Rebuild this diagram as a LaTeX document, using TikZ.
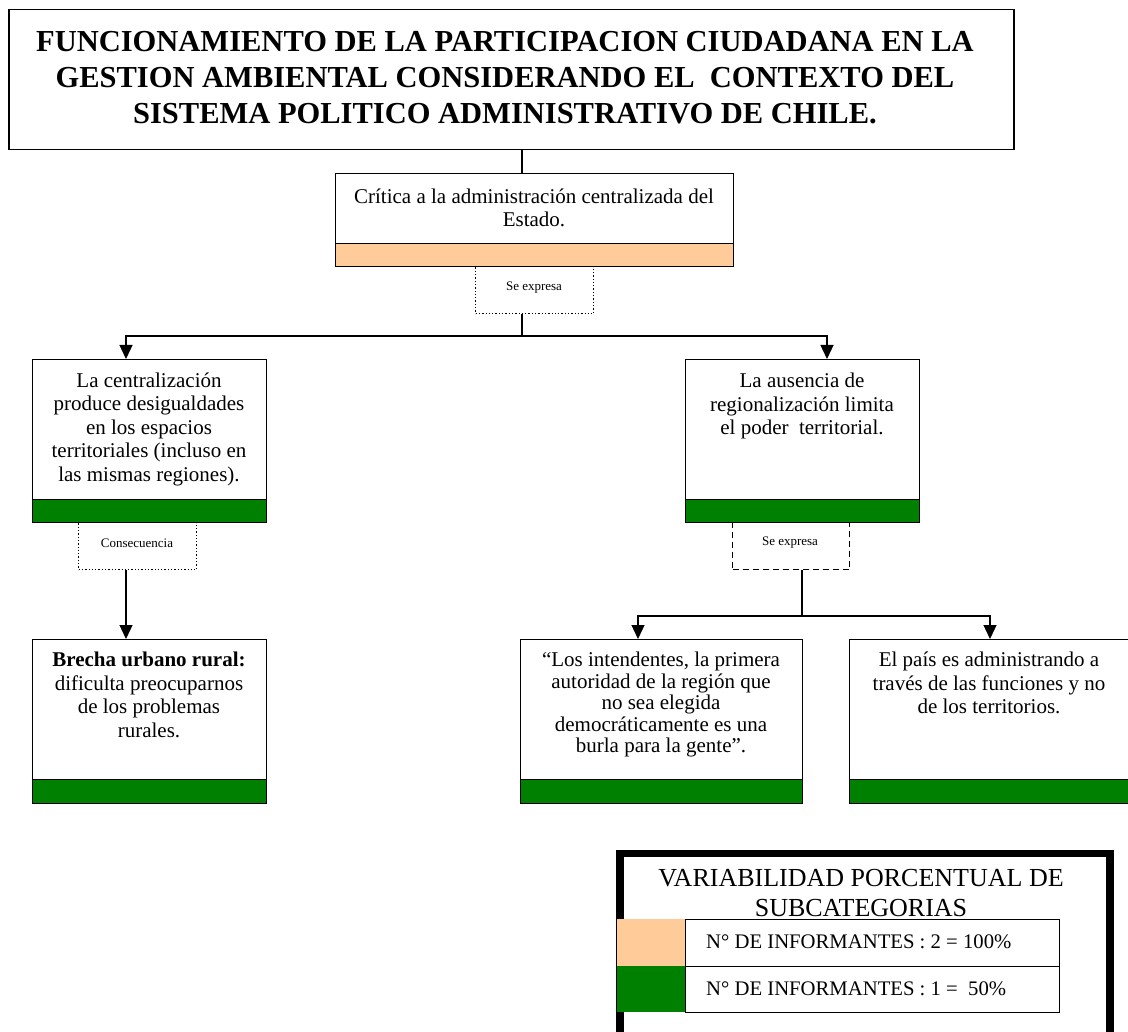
\documentclass[tikz,border=0pt]{standalone}
\usepackage{fontspec}
\setmainfont{Liberation Serif}
\usetikzlibrary{arrows.meta,calc}
\definecolor{boxgreen}{RGB}{0,128,0}
\definecolor{boxorange}{RGB}{255,204,153}
\begin{document}
\begin{tikzpicture}[x=1pt,y=-1pt,
  frame/.style={draw, line width=1.3pt, fill=white, inner sep=0pt, anchor=north west},
  bargreen/.style={draw, line width=1.3pt, fill=boxgreen, inner sep=0pt, anchor=north west},
  barorange/.style={draw, line width=1.3pt, fill=boxorange, inner sep=0pt, anchor=north west},
  body/.style={font=\fontsize{21}{23.5}\selectfont, align=center, inner sep=0pt},
  smalltext/.style={font=\fontsize{13}{15}\selectfont, inner sep=0pt},
  conn/.style={line width=1.3pt},
  arr/.style={conn, -{Triangle[length=14pt,width=13pt]}},
  dotbox/.style={draw, line width=1.3pt, dotted, inner sep=0pt, anchor=north west},
  dashbox/.style={draw, line width=1.4pt, dash pattern=on 6pt off 4pt, inner sep=0pt, anchor=north west},
]
\useasboundingbox (0,0) rectangle (1128,1032);
\clip (0,0) rectangle (1128,1032);

% title
\node[frame, line width=1.5pt, minimum width=1005, minimum height=140] (title) at (8,9) {};
\node[font=\fontsize{30.5}{36}\selectfont\bfseries, align=center, inner sep=0pt] (titletext) at (505,78)
 {FUNCIONAMIENTO DE LA PARTICIPACION CIUDADANA EN LA\\GESTION AMBIENTAL CONSIDERANDO EL\ \ CONTEXTO DEL\\SISTEMA POLITICO ADMINISTRATIVO DE CHILE.};

% Critica
\node[frame, minimum width=398, minimum height=70] (crit) at (335,173) {};
\node[barorange, minimum width=398, minimum height=23] (critbar) at (335,243) {};
\node[body] (crittext) at (534,208) {Crítica a la administración centralizada del\\Estado.};
\node[dotbox, minimum width=118, minimum height=47] (se1) at (475,266) {};
\node[smalltext] (se1text) at (534,288) {Se expresa};

% left box
\node[frame, minimum width=234, minimum height=140] (left) at (32,359) {};
\node[bargreen, minimum width=234, minimum height=23] (leftbar) at (32,499) {};
\node[body] (lefttext) at (149,429) {La centralización\\produce desigualdades\\en los espacios\\territoriales (incluso en\\las mismas regiones).};
\node[dotbox, minimum width=118, minimum height=47] (cons) at (78,522) {};
\node[smalltext] (constext) at (137,543) {Consecuencia};

% right box
\node[frame, minimum width=234, minimum height=140] (right) at (685,359) {};
\node[bargreen, minimum width=234, minimum height=23] (rightbar) at (685,499) {};
\node[body, anchor=north] (righttext) at (802,373) {La ausencia de\\regionalización limita\\el poder\ \ territorial.};
\node[dashbox, minimum width=117, minimum height=47] (se2) at (732,522) {};
\node[smalltext] (se2text) at (790,543) {Se expresa};

% bottom boxes
\node[frame, minimum width=234, minimum height=140] (brecha) at (32,639) {};
\node[bargreen, minimum width=234, minimum height=24] (brechabar) at (32,779) {};
\node[body, anchor=north] (brechatext) at (149,652) {\textbf{Brecha urbano rural:}\\dificulta preocuparnos\\de los problemas\\rurales.};

\node[frame, minimum width=282, minimum height=140] (inten) at (520,639) {};
\node[bargreen, minimum width=282, minimum height=24] (intenbar) at (520,779) {};
\node[body, anchor=north, font=\fontsize{21}{21.5}\selectfont] (intentext) at (661,652) {“Los intendentes, la primera\\autoridad de la región que\\no sea elegida\\democráticamente es una\\burla para la gente”.};

\node[frame, minimum width=290, minimum height=140] (pais) at (849,639) {};
\node[bargreen, minimum width=290, minimum height=24] (paisbar) at (849,779) {};
\node[body, anchor=north] (paistext) at (989,652) {El país es administrando a\\través de las funciones y no\\de los territorios.};

% connectors
\coordinate (tx) at (522,0);
\coordinate (lx) at (126,0);
\coordinate (rx) at (827,0);
\coordinate (ix) at (638,0);
\coordinate (px) at (990,0);
\coordinate (b1) at (522,336);
\coordinate (b2) at (802,616);
\draw[conn] (tx |- title.south) -- (tx |- crit.north);
\draw[conn] (b1 |- se1.south) -- (b1);
\draw[arr] (b1) -| (lx |- left.north);
\draw[arr] (b1) -| (rx |- right.north);
\draw[arr] (lx |- cons.south) -- (lx |- brecha.north);
\draw[conn] (b2 |- se2.south) -- (b2);
\draw[arr] (b2) -| (ix |- inten.north);
\draw[arr] (b2) -| (px |- pais.north);

% legend
\node[draw, line width=7.5pt, minimum width=490, minimum height=220, inner sep=0pt, anchor=north west] (legend) at (616,849.5) {};
\node[font=\fontsize{26}{30}\selectfont, align=center, inner sep=0pt] (legtitle) at (861,893) {VARIABILIDAD PORCENTUAL DE\\SUBCATEGORIAS};
\node[fill=boxorange, minimum width=68, minimum height=47, inner sep=0pt, anchor=north west] (sw1) at (617,919) {};
\node[draw, line width=1.3pt, minimum width=374, minimum height=47, inner sep=0pt, anchor=north west] (cell1) at (685,919) {};
\node[font=\fontsize{20.7}{22}\selectfont, anchor=west, inner sep=0pt] (row1) at (706,942) {N° DE INFORMANTES : 2 = 100\%};
\node[fill=boxgreen, minimum width=68, minimum height=46, inner sep=0pt, anchor=north west] (sw2) at (617,966) {};
\node[draw, line width=1.3pt, minimum width=374, minimum height=46, inner sep=0pt, anchor=north west] (cell2) at (685,966) {};
\node[font=\fontsize{20.7}{22}\selectfont, anchor=west, inner sep=0pt] (row2) at (706,989) {N° DE INFORMANTES : 1 =\ \ 50\%};
\end{tikzpicture}
\end{document}
